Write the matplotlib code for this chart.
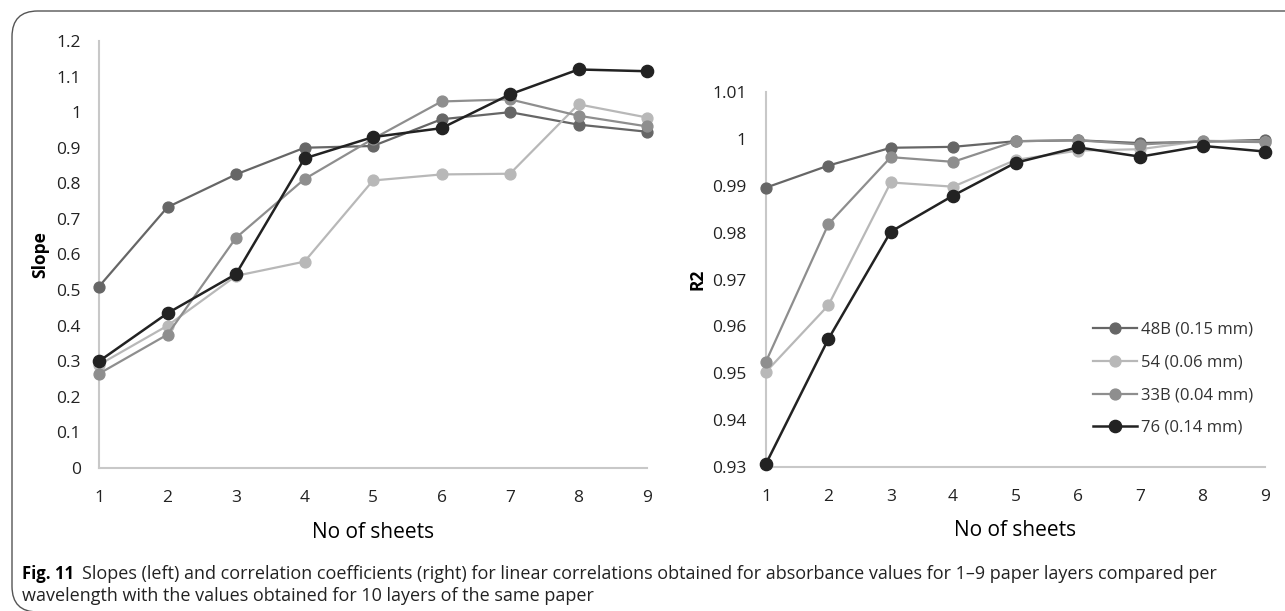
import matplotlib.pyplot as plt
from matplotlib.patches import FancyBboxPatch

W, H = 1285, 611

sheets = [1, 2, 3, 4, 5, 6, 7, 8, 9]
series_names = ['48B (0.15 mm)', '54 (0.06 mm)', '33B (0.04 mm)', '76 (0.14 mm)']

slope_48b = [0.51, 0.733, 0.825, 0.90, 0.905, 0.98, 1.0, 0.965, 0.945]
slope_54 = [0.29, 0.40, 0.54, 0.58, 0.808, 0.825, 0.827, 1.022, 0.985]
slope_33b = [0.265, 0.375, 0.647, 0.812, 0.925, 1.03, 1.036, 0.99, 0.96]
slope_76 = [0.30, 0.435, 0.545, 0.87, 0.93, 0.955, 1.05, 1.12, 1.115]

r2_48b = [0.9896, 0.9943, 0.9981, 0.9983, 0.9995, 0.9997, 0.9991, 0.9994, 0.9998]
r2_54 = [0.9503, 0.9645, 0.9907, 0.9898, 0.9955, 0.9975, 0.9978, 0.9996, 0.9994]
r2_33b = [0.9525, 0.9818, 0.9961, 0.9951, 0.9995, 0.9997, 0.9988, 0.9995, 0.9993]
r2_76 = [0.9307, 0.9573, 0.9802, 0.9879, 0.9949, 0.9982, 0.9962, 0.9985, 0.9973]

colors = ['#666666', '#b8b8b8', '#8e8e8e', '#222222']
sizes = [7.8, 7.8, 7.8, 8.8]
widths = [1.6, 1.6, 1.6, 1.8]

caption_bold = 'Fig. 11'
caption_1 = ('Slopes (left) and correlation coefficients (right) for linear correlations '
             'obtained for absorbance values for 1\u20139 paper layers compared per')
caption_2 = 'wavelength with the values obtained for 10 layers of the same paper'

plt.rcParams['font.family'] = ['Open Sans', 'DejaVu Sans']

fig = plt.figure(figsize=(W / 100, H / 100), dpi=100)


def px_axes(x0, x1, y_top, y_bot):
    return fig.add_axes([x0 / W, 1 - y_bot / H, (x1 - x0) / W, (y_bot - y_top) / H])


def style(ax):
    for s in ['top', 'right']:
        ax.spines[s].set_visible(False)
    for s in ['left', 'bottom']:
        ax.spines[s].set_color('#c8c8c8')
        ax.spines[s].set_linewidth(1.5)
    ax.tick_params(length=0, labelsize=12.5, colors='#222222')
    ax.tick_params(axis='x', pad=16)
    ax.set_xlim(1, 9)
    ax.set_xticks(sheets)


# left: slopes
ax1 = px_axes(99, 647, 41, 468)
style(ax1)
ax1.tick_params(axis='y', pad=13)
for vals, c, ms, lw in zip([slope_48b, slope_54, slope_33b, slope_76], colors, sizes, widths):
    ax1.plot(sheets, vals, color=c, lw=lw, marker='o', ms=ms, clip_on=False, zorder=3)
ax1.set_ylim(0, 1.2)
ax1.set_yticks([i / 10 for i in range(13)])
ax1.set_yticklabels(['0'] + ['%.1f' % (i / 10) for i in range(1, 10)] + ['1', '1.1', '1.2'])
ax1.set_xlabel('No of sheets', fontsize=15, labelpad=11)
ax1.set_ylabel('Slope', fontsize=12.5, fontweight='bold', labelpad=5)

# right: R2
ax2 = px_axes(766, 1265, 92, 467)
style(ax2)
ax2.tick_params(axis='y', pad=14)
lines = []
for vals, c, ms, lw, name in zip([r2_48b, r2_54, r2_33b, r2_76], colors, sizes, widths,
                                 series_names):
    l, = ax2.plot(sheets, vals, color=c, lw=lw, marker='o', ms=ms, clip_on=False,
                  zorder=3, label=name)
    lines.append(l)
ax2.set_ylim(0.93, 1.01)
ax2.set_yticks([0.93 + i * 0.01 for i in range(9)])
ax2.set_yticklabels(['0.93', '0.94', '0.95', '0.96', '0.97', '0.98', '0.99', '1', '1.01'])
ax2.set_xlabel('No of sheets', fontsize=15, labelpad=11)
ax2.set_ylabel('R2', fontsize=12.5, fontweight='bold', labelpad=4)
fig.legend(handles=lines, loc='upper left', bbox_to_anchor=(1093 / W, 1 - 322 / H),
           frameon=False, fontsize=12, handlelength=2.65, handletextpad=0.25,
           labelspacing=1.0, borderpad=0, borderaxespad=0, labelcolor='#333333')

# frame around figure
frame = FancyBboxPatch((12 / W, -1 / H), 1400 / W, (H - 11 + 1) / H,
                       boxstyle='round,pad=0,rounding_size=0.02',
                       transform=fig.transFigure, fill=False, ec='#555555', lw=1.0,
                       mutation_aspect=W / H)
fig.patches.append(frame)

# caption
fig.text(22 / W, 1 - 574 / H, caption_bold, fontsize=12, fontweight='bold', va='center')
fig.text(82 / W, 1 - 574 / H, caption_1, fontsize=13, va='center', color='#222222')
fig.text(22 / W, 1 - 596 / H, caption_2, fontsize=13, va='center', color='#222222')

fig.savefig('out.png', dpi=100)
